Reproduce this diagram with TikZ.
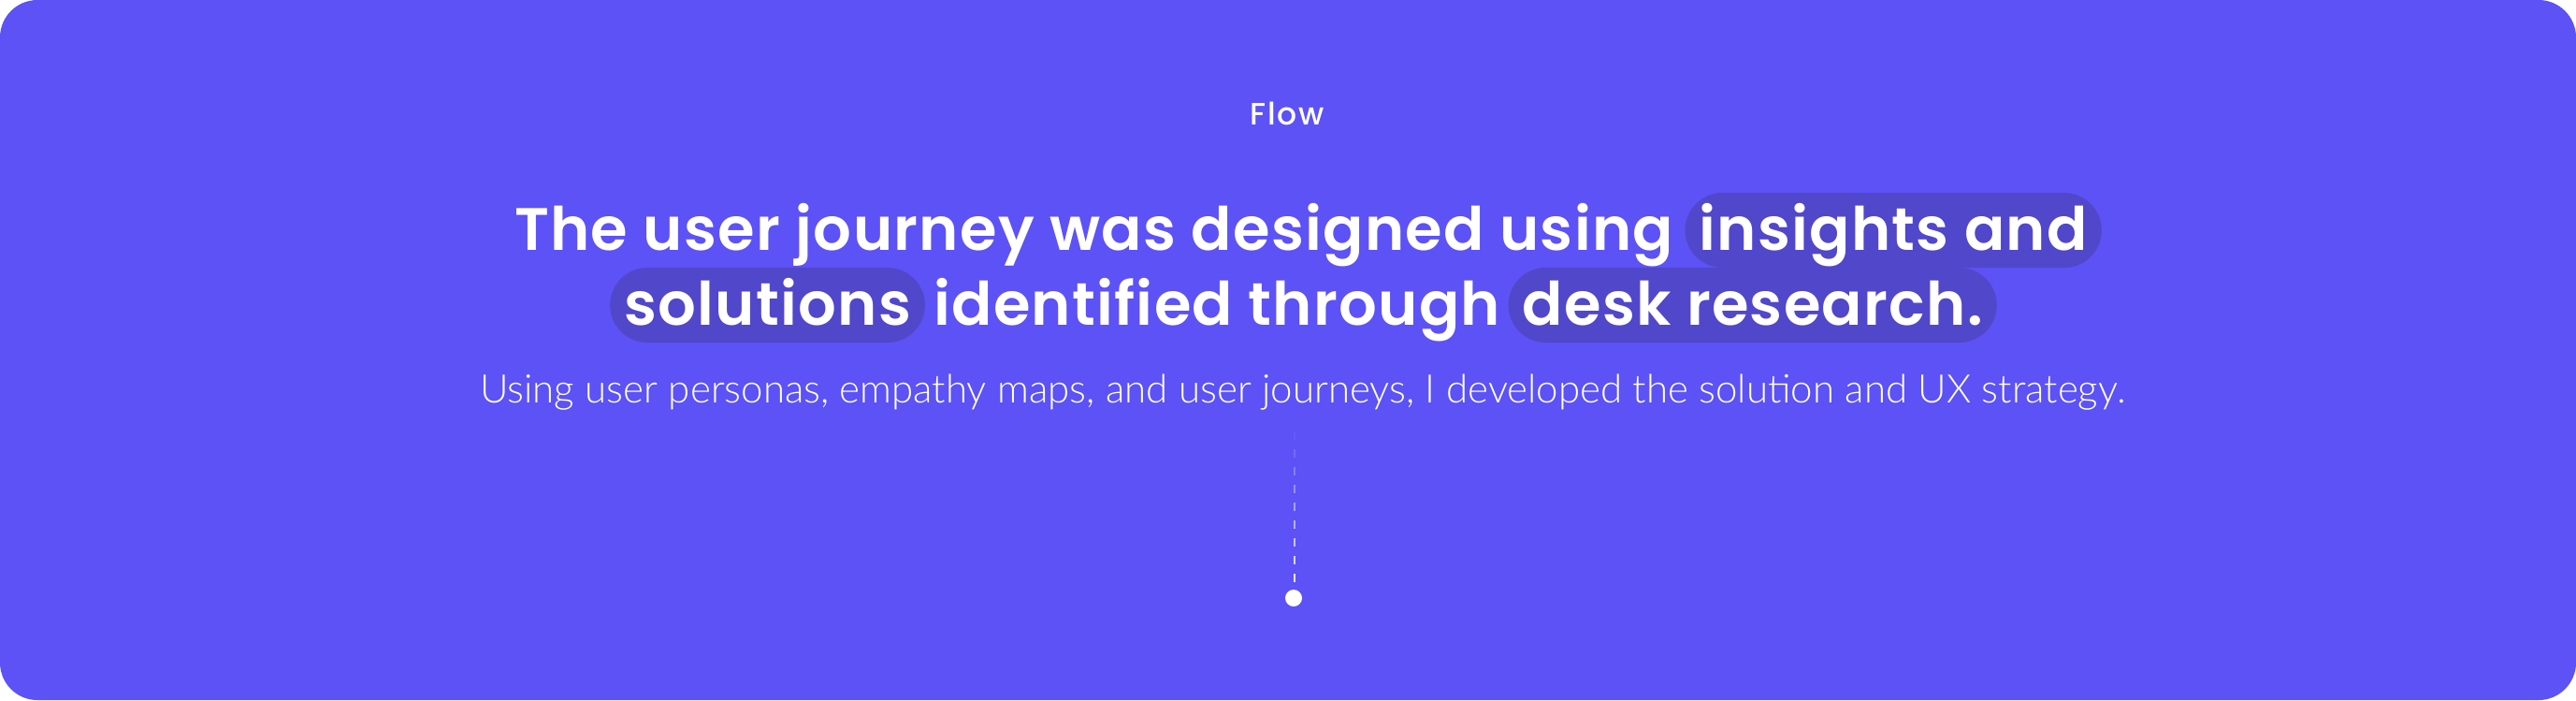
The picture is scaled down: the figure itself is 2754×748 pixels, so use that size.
\documentclass[tikz,border=0pt]{standalone}
\usepackage{fontspec}
\usepackage{tikz}
\usetikzlibrary{positioning,calc}
\IfFontExistsTF{Poppins SemiBold}{\newfontfamily\headfont{Poppins SemiBold}[LetterSpace=2.0]}{\newfontfamily\headfont{Poppins}[LetterSpace=2.0]}
\IfFontExistsTF{Poppins Medium}{\newfontfamily\tagfont{Poppins Medium}[LetterSpace=6]}{\newfontfamily\tagfont{Poppins}[LetterSpace=6]}
\IfFontExistsTF{Lato Light}{\newfontfamily\subfont{Lato Light}}{\newfontfamily\subfont{Lato}}
\definecolor{bgblue}{RGB}{92,82,245}
\definecolor{pillblue}{RGB}{81,71,202}
\tikzset{
    headtxt/.style = {text = white, inner sep = 0pt, font = \headfont\fontsize{64}{70}\selectfont},
    pill/.style = {headtxt, fill = pillblue, rounded corners = 40pt, inner xsep = 15pt, inner ysep = 0pt,
        text height = 61pt, text depth = 19pt},
    subtxt/.style = {text = white, inner sep = 0pt, font = \subfont\fontsize{42}{48}\selectfont},
    tagtxt/.style = {text = white, inner sep = 0pt, font = \tagfont\fontsize{33}{38}\selectfont},
}
\begin{document}
\begin{tikzpicture}[x = 1pt, y = -1pt]
\useasboundingbox (0,0) rectangle (2754,748);
\fill[white] (0,0) rectangle (2754,748);
\fill[bgblue, rounded corners = 40pt] (0,0) rectangle (2754,748);
% heading
\node[tagtxt, anchor = base west] (tag) at (1336,133) {Flow};
\node[headtxt, anchor = base west] (lineA) at (550,267) {The user journey was designed using};
\node[pill, base right = 12pt of lineA] (insights) {insights and};
\node[pill, anchor = base west] (solutions) at (652,347) {solutions};
\node[headtxt, base right = 9pt of solutions] (lineB) {identified through};
\node[pill, base right = 8pt of lineB] (desk) {desk research.};
\node[subtxt, anchor = base west] (sub) at (513,430) {Using user personas, empathy maps, and user journeys, I developed the solution and UX strategy.};
% dashed stem
\coordinate (stem) at (1384,461);
\node[circle, fill = white, minimum size = 18pt, inner sep = 0pt] (dot) at (1383,639) {};
\foreach \k in {0,...,8}
    \draw[white, line width = 2.5pt, opacity = 0.05+0.1*\k] ($(stem)+(0,19*\k)$) -- ++(0,9);
\end{tikzpicture}
\end{document}
